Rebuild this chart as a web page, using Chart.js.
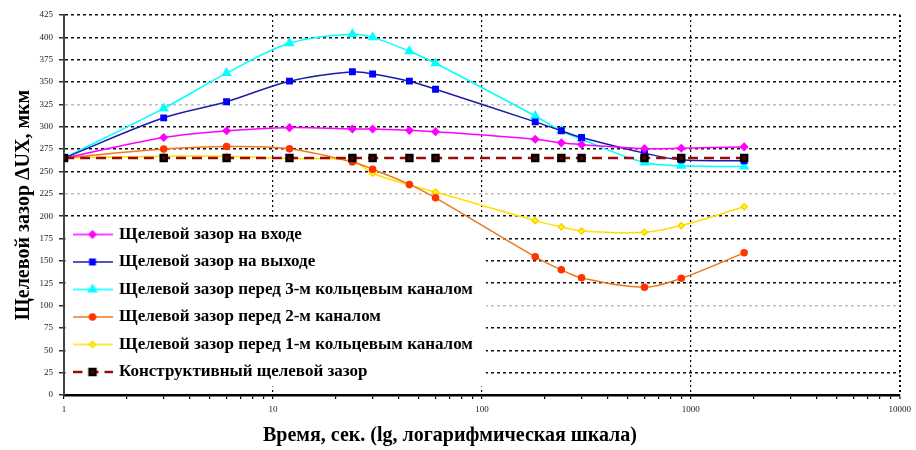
<!DOCTYPE html>
<html>
<head>
<meta charset="utf-8">
<script src="https://cdn.jsdelivr.net/npm/chart.js@4.4.1/dist/chart.umd.min.js"></script>
<style>
    html, body { margin: 0; padding: 0; background: #fff; }
    #caixa { width: 916px; height: 450px; position: relative; }
</style>
</head>
<body>
<div id="caixa"><canvas id="grafico"></canvas></div>
<script>
// tempo, s (escala log)
var tempos = [1, 3, 6, 12, 24, 30, 45, 60, 180, 240, 300, 600, 900, 1800];

// valores, mkm
var zazor_vhod = [265, 288, 295.5, 299, 297.5, 297.5, 296, 294.5, 286, 282, 280, 275.5, 276, 277.5];
var zazor_vyhod = [265, 310, 328, 351, 361.5, 359, 351, 342, 305.5, 295.5, 288, 270.5, 263, 262];
var zazor_kanal3 = [265, 320.5, 360, 393.5, 403.5, 400, 384.5, 371, 312, 295.5, 286, 260, 256.5, 255.5];
var zazor_kanal2 = [265, 275, 278, 275.5, 260.5, 252.5, 235.5, 220.5, 154.5, 140, 131, 120.5, 130.5, 159];
var zazor_kanal1 = [265, 267, 267, 264.5, 262, 248, 235, 227, 195, 188, 183.5, 182, 189.5, 210.5];
var zazor_konstr = [265, 265, 265, 265, 265, 265, 265, 265, 265, 265, 265, 265, 265, 265];

var nomes = [
    'Щелевой зазор на входе',
    'Щелевой зазор на выходе',
    'Щелевой зазор перед 3-м кольцевым каналом',
    'Щелевой зазор перед 2-м каналом',
    'Щелевой зазор перед 1-м кольцевым каналом',
    'Конструктивный щелевой зазор'
];

var marcas_x = [1, 10, 100, 1000, 10000];
var linhas_claras_y = [100, 225, 325];

function pares(serie) {
    var lista = [];
    for (let i = 0; i < tempos.length; i++) {
        lista.push({ x: tempos[i], y: serie[i] });
    }
    return lista;
}

// simbolo da legenda: linha com marcador no meio
function simbolo(ds) {
    var c = document.createElement('canvas');
    c.width = 40;
    c.height = 14;
    var g = c.getContext('2d');
    g.strokeStyle = ds.borderColor;
    g.lineWidth = ds.borderWidth;
    if (ds.borderDash) g.setLineDash(ds.borderDash);
    g.beginPath();
    g.moveTo(0, 7);
    g.lineTo(40, 7);
    g.stroke();
    g.setLineDash([]);
    g.fillStyle = ds.pointBackgroundColor;
    g.strokeStyle = ds.pointBorderColor;
    Chart.helpers.drawPoint(g, { pointStyle: ds.pointStyle, radius: ds.pointRadius, borderWidth: 1, rotation: 0 }, 20, 7);
    return c;
}

var desloc_legenda = 11;

var fundo_legenda = {
    id: 'fundo_legenda',
    afterLayout: function (chart) {
        var leg = chart.legend;
        if (!leg || !leg.legendHitBoxes) return;
        leg.top += desloc_legenda;
        leg.bottom += desloc_legenda;
        leg.legendHitBoxes.forEach(function (b) { b.top += desloc_legenda; });
    },
    beforeDatasetsDraw: function (chart) {
        var leg = chart.legend;
        if (!leg || !leg.legendHitBoxes || leg.legendHitBoxes.length == 0) return;
        var x1 = Infinity, y1 = Infinity, x2 = -Infinity, y2 = -Infinity;
        leg.legendHitBoxes.forEach(function (b) {
            x1 = Math.min(x1, b.left);
            y1 = Math.min(y1, b.top);
            x2 = Math.max(x2, b.left + b.width);
            y2 = Math.max(y2, b.top + b.height);
        });
        var ctx = chart.ctx;
        ctx.save();
        ctx.fillStyle = '#fff';
        ctx.fillRect(x1 - 9, y1 - 9, x2 - x1 + 22, Math.min(y2 - y1 + 15, chart.chartArea.bottom - 2 - (y1 - 9)));
        ctx.restore();
        leg.draw();
    }
};

const dados = {
    datasets: [
        {
            label: nomes[0], data: pares(zazor_vhod),
            borderColor: '#ff00ff', borderWidth: 1.5,
            pointStyle: 'rectRot', pointRadius: 3.5,
            pointBackgroundColor: '#ff00ff', pointBorderColor: '#ff00ff'
        },
        {
            label: nomes[1], data: pares(zazor_vyhod),
            borderColor: '#1c1ca8', borderWidth: 1.5,
            pointStyle: 'rect', pointRadius: 3.8,
            pointBackgroundColor: '#0000ff', pointBorderColor: '#0000ff'
        },
        {
            label: nomes[2], data: pares(zazor_kanal3),
            borderColor: '#00ffff', borderWidth: 1.5,
            pointStyle: 'triangle', pointRadius: 4.5,
            pointBackgroundColor: '#00ffff', pointBorderColor: '#00ffff'
        },
        {
            label: nomes[3], data: pares(zazor_kanal2),
            borderColor: '#f07818', borderWidth: 1.5,
            pointStyle: 'circle', pointRadius: 3,
            pointBackgroundColor: '#ff3300', pointBorderColor: '#ff3300'
        },
        {
            label: nomes[4], data: pares(zazor_kanal1),
            borderColor: '#ffe000', borderWidth: 1.5,
            pointStyle: 'rectRot', pointRadius: 3,
            pointBackgroundColor: '#ffff00', pointBorderColor: '#ffd000'
        },
        {
            label: nomes[5], data: pares(zazor_konstr),
            borderColor: '#9b0a0a', borderWidth: 2.5, borderDash: [10, 6],
            pointStyle: 'rect', pointRadius: 4.2,
            pointBackgroundColor: '#5a0000', pointBorderColor: '#000000',
            order: -1
        }
    ]
};

dados.datasets.forEach(function (ds) {
    ds.backgroundColor = ds.pointBackgroundColor;
    ds.fill = false;
    ds.tension = 0.35;
});

const config = {
    type: 'line',
    data: dados,
    plugins: [fundo_legenda],
    options: {
        responsive: true,
        maintainAspectRatio: false,
        animation: false,
        devicePixelRatio: 1,
        layout: { padding: { top: 15, right: 16, left: 0, bottom: 0 } },
        plugins: {
            tooltip: { enabled: false },
            title: {
                display: true,
                position: 'bottom',
                text: 'Время, сек. (lg, логарифмическая шкала)',
                color: '#000',
                font: { family: 'Liberation Serif', size: 20, weight: 'bold', lineHeight: 1.2 },
                padding: { top: 4, bottom: 2 }
            },
            legend: {
                position: 'chartArea',
                align: 'end',
                labels: {
                    usePointStyle: true,
                    pointStyleWidth: 36,
                    padding: 10.5,
                    color: '#000',
                    font: { family: 'Liberation Serif', size: 17, weight: 'bold' },
                    generateLabels: function (chart) {
                        return chart.data.datasets.map(function (ds, i) {
                            return {
                                text: ds.label,
                                datasetIndex: i,
                                pointStyle: simbolo(ds),
                                fillStyle: 'transparent',
                                strokeStyle: 'transparent',
                                lineWidth: 0,
                                hidden: false,
                                fontColor: '#000'
                            };
                        });
                    }
                }
            }
        },
        scales: {
            x: {
                type: 'logarithmic',
                min: 1,
                max: 10000,
                afterBuildTicks: function (scale) {
                    var lista = [];
                    for (let d = 0; d < marcas_x.length - 1; d++) {
                        for (let k = 1; k <= 9; k++) {
                            lista.push({ value: marcas_x[d] * k });
                        }
                    }
                    lista.push({ value: marcas_x[marcas_x.length - 1] });
                    scale.ticks = lista;
                },
                afterFit: function (scale) { scale.height = 25; },
                ticks: {
                    autoSkip: false,
                    maxRotation: 0,
                    padding: 5,
                    color: '#222',
                    font: { family: 'Liberation Sans Narrow', size: 9 },
                    callback: function (valor) {
                        return marcas_x.includes(valor) ? String(valor) : '';
                    }
                },
                grid: {
                    color: function (c) {
                        return (c.tick && marcas_x.includes(c.tick.value)) ? '#000' : 'rgba(0,0,0,0)';
                    },
                    lineWidth: function (c) {
                        return (c.tick && c.tick.value == 10000) ? 2 : 1.2;
                    },
                    tickColor: '#000',
                    tickLength: 4,
                    tickWidth: 1.2
                },
                border: { display: true, color: '#000', width: 2.5, dash: [2, 3] }
            },
            y: {
                min: 0,
                max: 425,
                afterFit: function (scale) { scale.width = 64; },
                ticks: {
                    stepSize: 25,
                    padding: 6,
                    color: '#222',
                    font: { family: 'Liberation Sans Narrow', size: 9 }
                },
                grid: {
                    color: function (c) {
                        return (c.tick && linhas_claras_y.includes(c.tick.value)) ? '#bdbdbd' : '#111';
                    },
                    lineWidth: 1.5,
                    tickColor: '#333',
                    tickLength: 5,
                    tickWidth: 1.5
                },
                border: { display: true, color: '#444', width: 2, dash: [3, 3] },
                title: {
                    display: true,
                    text: 'Щелевой зазор ΔUX, мкм',
                    color: '#000',
                    font: { family: 'Liberation Serif', size: 20, weight: 'bold' },
                    padding: { top: 12, bottom: 0 }
                }
            }
        }
    }
};

const meuGrafico = new Chart(document.getElementById('grafico'), config);
</script>
</body>
</html>
